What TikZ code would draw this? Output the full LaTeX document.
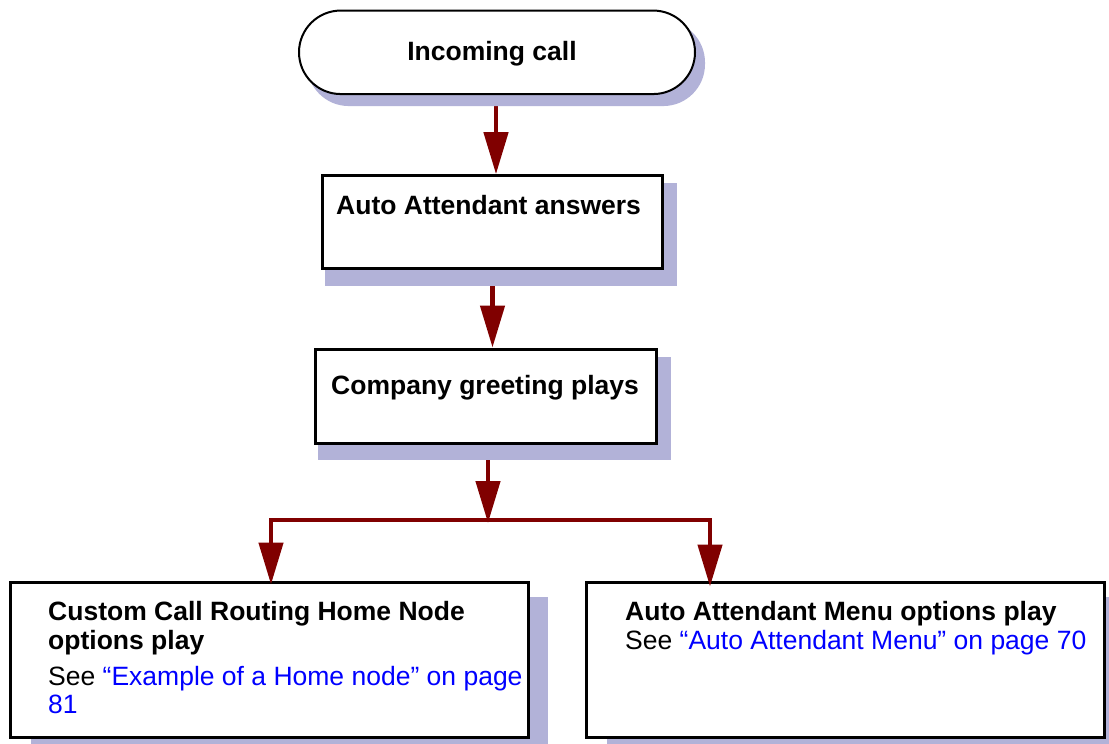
\documentclass[tikz,border=0pt]{standalone}
\usepackage{fontspec}
\setmainfont{Liberation Sans}
\usetikzlibrary{arrows.meta,calc}
\definecolor{shadowc}{RGB}{178,178,216}
\definecolor{arrowc}{RGB}{128,0,0}
\definecolor{linkc}{RGB}{0,0,255}
\pgfdeclarelayer{arrowlayer}
\pgfdeclarelayer{shadowlayer}
\pgfsetlayers{arrowlayer,shadowlayer,main}
\begin{document}
\begin{tikzpicture}[x=1pt,y=-1pt,
  box/.style={draw=black, fill=white, line width=3pt, inner sep=0pt, rectangle},
  term/.style={draw=black, fill=white, line width=2pt, inner sep=0pt, rounded corners=41.75pt, minimum width=396pt, minimum height=83.5pt},
  shade/.style={fill=shadowc},
  conn/.style={draw=arrowc, line width=4.5pt, -{Triangle[length=42pt,width=24pt]}},
  plainline/.style={draw=arrowc, line width=4.5pt, line cap=rect},
  lbl/.style={inner sep=0pt, anchor=base west, font=\fontsize{26.5}{30}\selectfont},
  lblb/.style={inner sep=0pt, anchor=base west, font=\fontsize{26.5}{30}\selectfont\bfseries},
]
\useasboundingbox (0,0) rectangle (1109,744);

% boxes
\node[term] (inc) at (497,52.3) {};
\node[box, minimum width=340pt, minimum height=93pt] (aa) at (492.5,222.2) {};
\node[box, minimum width=341pt, minimum height=94.7pt] (cg) at (485.5,396.4) {};
\node[box, minimum width=517.3pt, minimum height=155pt] (lb) at (269.35,659.5) {};
\node[box, minimum width=517.7pt, minimum height=155pt] (rb) at (845.15,659.5) {};

% texts
\node[lblb, anchor=base] (tinc) at (492,60) {Incoming call};
\node[lblb] (taa) at (336,214) {Auto Attendant answers};
\node[lblb] (tcg) at (331,394) {Company greeting plays};
\node[lblb] (tl1) at (48,620) {Custom Call Routing Home Node};
\node[lblb] (tl2) at (48,649) {options play};
\node[lbl] (tl3) at (48,685) {See \textcolor{linkc}{“Example of a Home node” on page}};
\node[lbl, text=linkc] (tl4) at (48,713) {81};
\node[lblb] (tr1) at (625,620) {Auto Attendant Menu options play};
\node[lbl] (tr2) at (625,649) {See \textcolor{linkc}{“Auto Attendant Menu” on page 70}};

% shadows
\begin{pgfonlayer}{shadowlayer}
\fill[shade, rounded corners=41.75pt] ($(inc.south west)+(9,11)$) rectangle ($(inc.north east)+(9,11)$);
\fill[shade] ($(aa.north west)+(4,9)$) rectangle ($(aa.south east)+(13,16)$);
\fill[shade] ($(cg.north west)+(4,9)$) rectangle ($(cg.south east)+(13,15)$);
\fill[shade] ($(lb.north west)+(22,16.5)$) rectangle ($(lb.south east)+(18.5,10)$);
\fill[shade] ($(rb.north west)+(22,16.5)$) rectangle (1109,744);
\end{pgfonlayer}

% connectors
\coordinate (split) at (488,520);
\coordinate (jl) at (271,520);
\coordinate (jr) at (710,520);
\begin{pgfonlayer}{arrowlayer}
\draw[conn] ([xshift=-1pt]inc.south) -- ([xshift=-1pt]inc.south |- aa.north);
\draw[conn] (aa.south) -- (aa.south |- cg.north);
\draw[conn] (cg.south -| split) -- ($(split)+(0,3)$);
\end{pgfonlayer}
\draw[plainline] (jl) -- (jr);
\draw[conn] (jl) -- ($(jl |- lb.north)+(0,4)$);
\draw[conn] (jr) -- ($(jr |- rb.north)+(0,6)$);
\end{tikzpicture}
\end{document}
